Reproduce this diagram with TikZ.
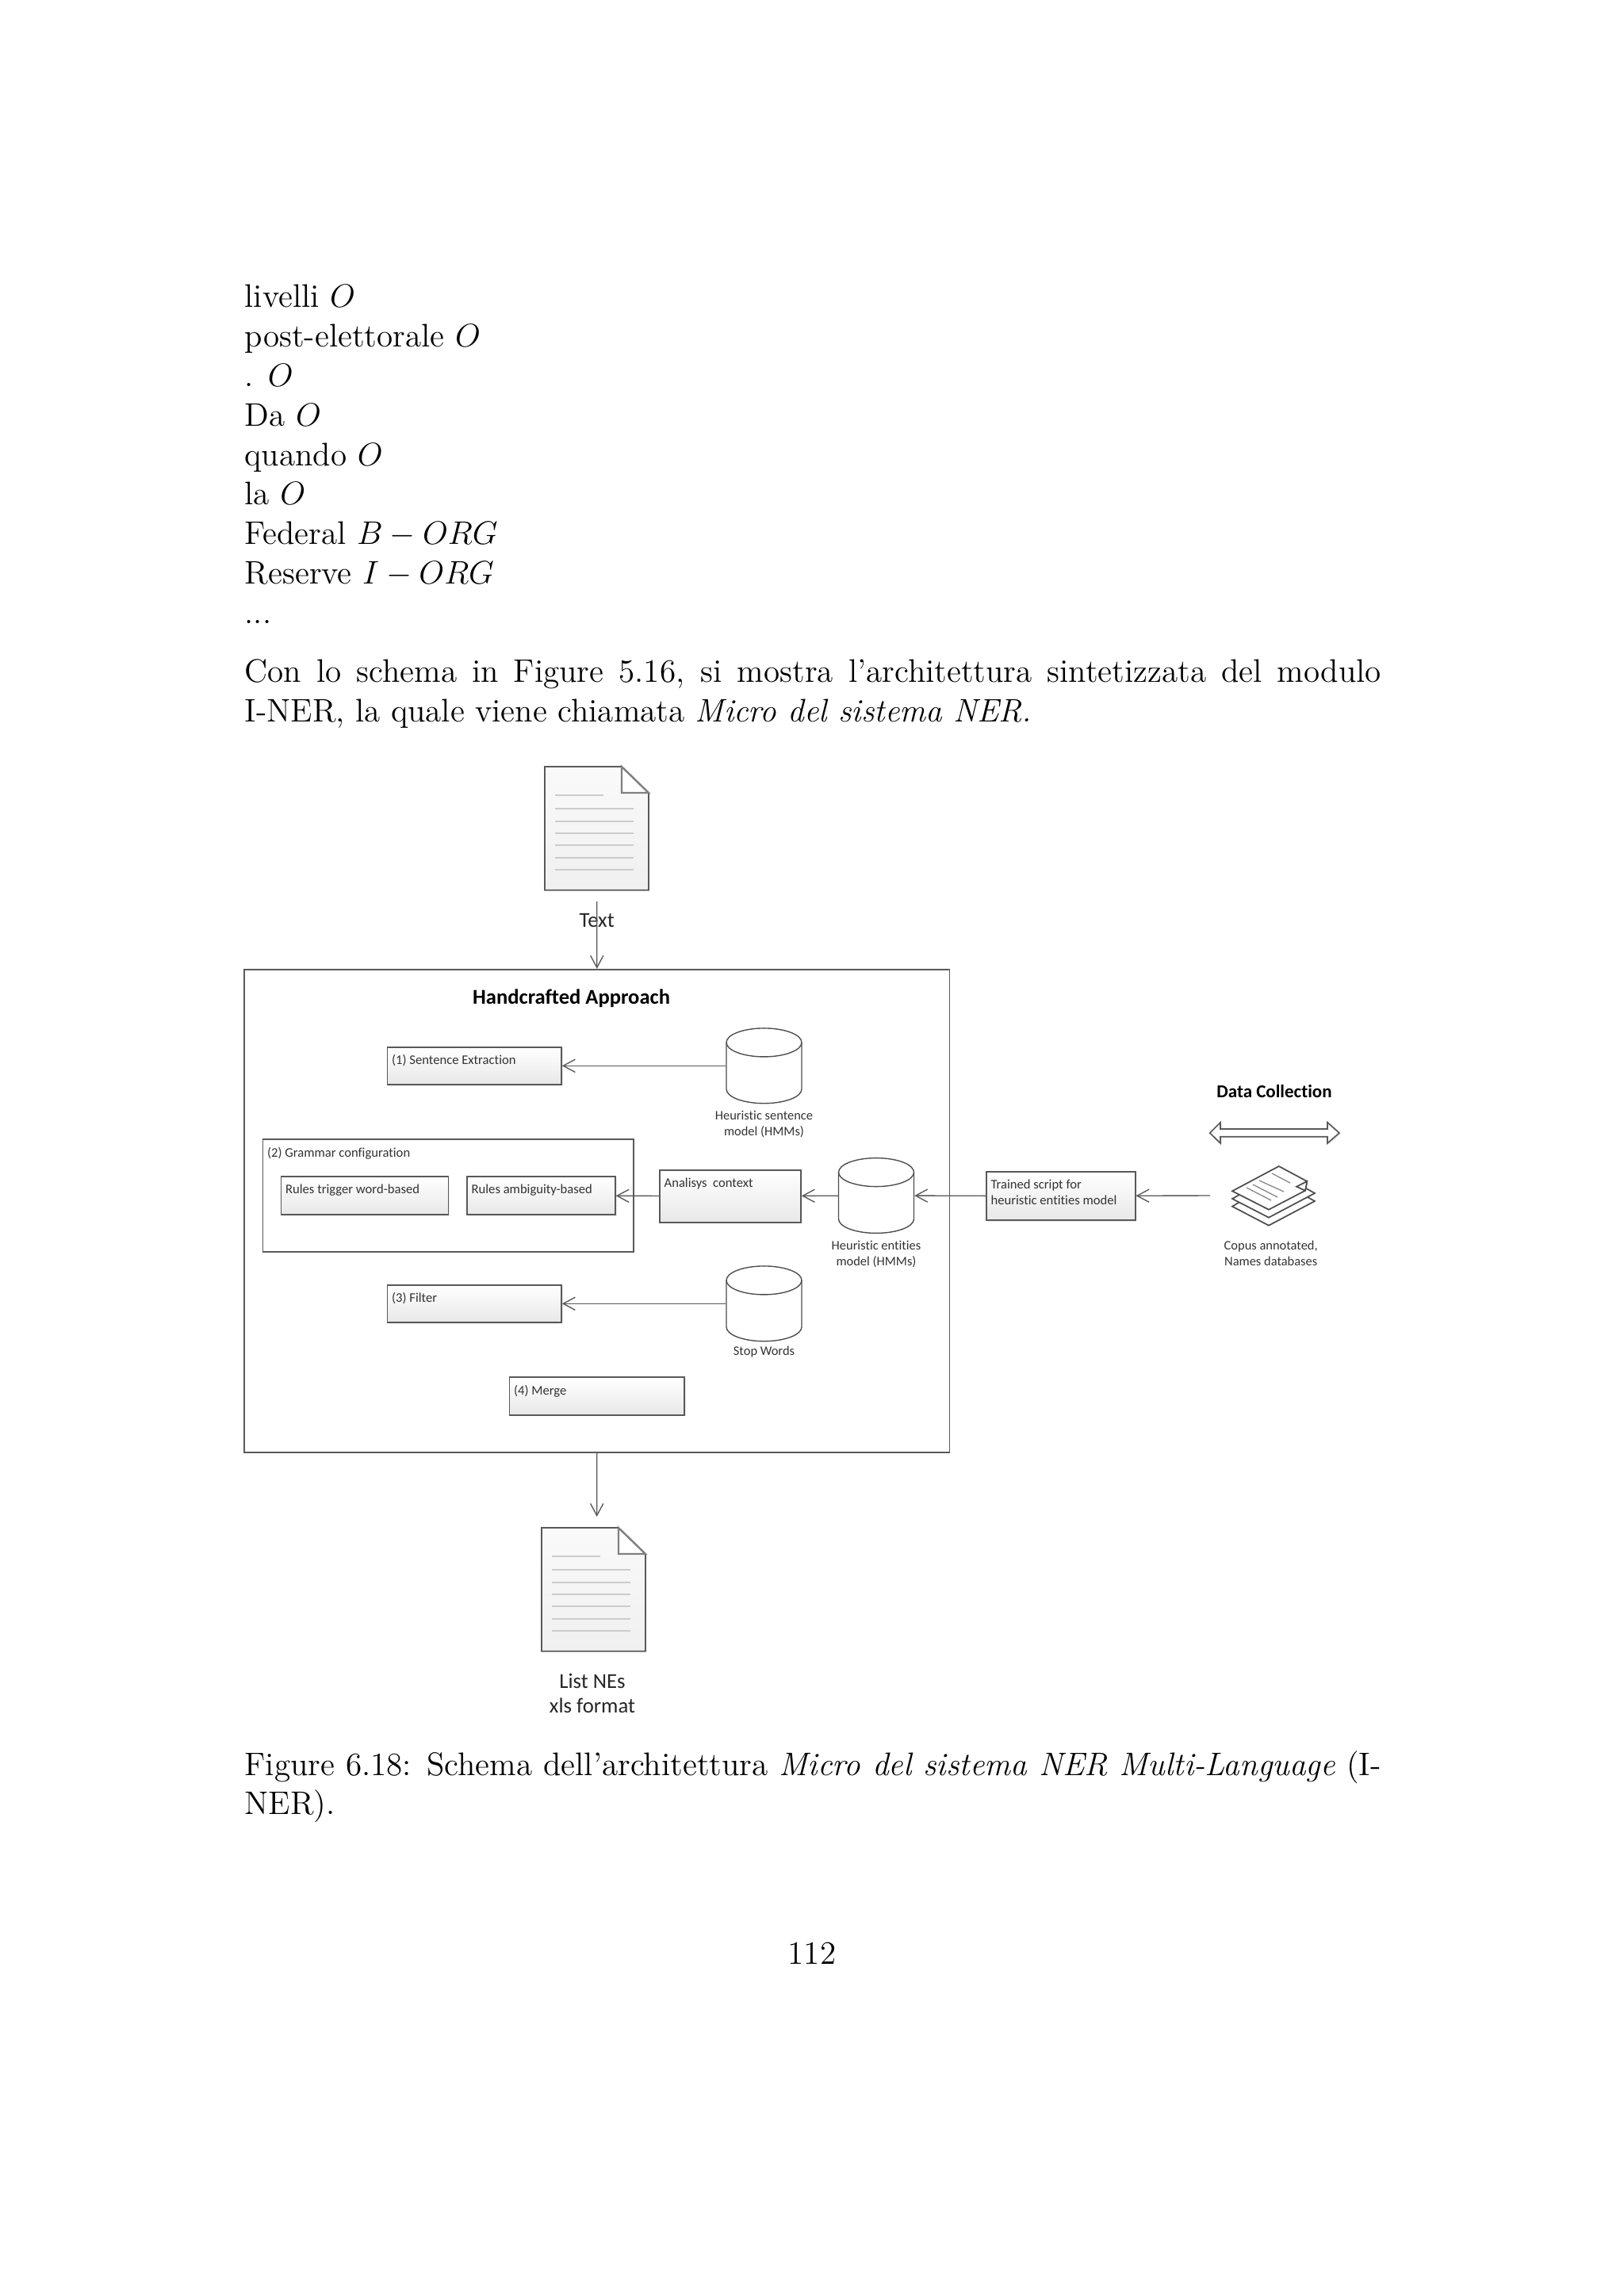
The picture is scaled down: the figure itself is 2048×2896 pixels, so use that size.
\documentclass[tikz,border=0pt]{standalone}
\usepackage{fontspec}
\newfontfamily\calibrifont[Ligatures=CommonOff]{Carlito}
\usepackage{tikz}
\usetikzlibrary{shapes,arrows.meta,positioning,shadows}

\def\pxu{0.29175pt}

\begin{document}
\begin{tikzpicture}[x=0.29175pt, y=-0.29175pt,
        bodytext/.style={anchor=base west, inner sep=0pt, font=\fontsize{12}{14.5}\selectfont},
        procbox/.style={rectangle, draw=black!65, line width=0.5pt, inner sep=0pt, top color=white, bottom color=black!9, drop shadow={opacity=0.15, shadow xshift=0.5pt, shadow yshift=-0.5pt}},
        plainbox/.style={rectangle, draw=black!65, line width=0.5pt, inner sep=0pt, fill=white},
        boxsize/.style 2 args={minimum width=#1*\pxu, minimum height=#2*\pxu},
        boxtext/.style={anchor=north west, inner xsep=1.7pt, inner ysep=3pt, align=left, text=black!80, font=\calibrifont\fontsize{4.85}{5.75}\selectfont},
        dbase/.style={rectangle, inner sep=0pt, minimum width=95*\pxu, minimum height=94.7*\pxu},
        caption/.style={align=center, inner sep=0pt, text=black!80, font=\calibrifont\fontsize{4.8}{5.75}\selectfont},
        bigcaption/.style={align=center, inner sep=0pt, text=black!85, font=\calibrifont\fontsize{7.8}{9.2}\selectfont},
        heading/.style={inner sep=0pt, text=black, font=\calibrifont\bfseries\fontsize{7.75}{9}\selectfont},
        arrow/.style={-{Straight Barb[length=4.4pt, width=4.7pt]}, draw=black!65, line width=0.4pt},
        dbshape/.pic={
            \draw[black!70, line width=0.4pt, fill=white] (-47.5,-29.4) -- (-47.5,29.4) arc (180:0:47.5 and 18) -- (47.5,-29.4);
            \draw[black!70, line width=0.4pt, fill=white] (0,-29.4) ellipse (47.5 and 18);
        },
        docpage/.pic={
            \draw[black!65, line width=0.5pt, top color=black!2, bottom color=black!6] (0,0) -- (97,0) -- (131,33) -- (131,155.7) -- (0,155.7) -- cycle;
            \draw[black!50, line width=0.7pt, fill=white] (97,0) -- (97,33) -- (131,33) -- cycle;
            \draw[black!20, line width=0.5pt] (13,36) -- (74,36);
            \foreach \ly in {53,69,84,99,115,130}
                \draw[black!20, line width=0.5pt] (13,\ly) -- (112,\ly);
        }]
        \useasboundingbox (0,0) rectangle (2048,2896);

        % Page text (top)
        \foreach \i/\txt in {0/{livelli $O$}, 1/{post-elettorale $O$}, 2/{. $O$}, 3/{Da $O$}, 4/{quando $O$}, 5/{la $O$}, 6/{Federal $B-ORG$}, 7/{Reserve $I-ORG$}, 8/{...}}
            \node[bodytext] (line\i) at (308,{387.8+49.8*\i}) {\txt};
        \node[bodytext] (introa) at (308,860.5) {\makebox[418.1pt][s]{Con lo schema in Figure 5.16, si mostra l'architettura sintetizzata del modulo}};
        \node[bodytext] (introb) at (308,910.3) {I-NER, la quale viene chiamata \emph{Micro del sistema NER.}};

        % Input document
        \pic at (687,967) {docpage};
        \node[bigcaption] (textlabel) at (752.7,1160.7) {Text};
        \coordinate (textin) at (752.7,1137);

        % Handcrafted approach (container)
        \node[plainbox, boxsize={889.6}{609}] (handcrafted) at (752.8,1527.2) {};
        \node[heading] (handtitle) at (720.6,1259) {Handcrafted Approach};

        % Steps
        \node[procbox, boxsize={219.5}{47.3}, label={[boxtext]north west:(1) Sentence Extraction}] (sentence) at (598.2,1344.3) {};
        \node[plainbox, boxsize={467.9}{141.7}, label={[boxtext]north west:(2) Grammar configuration}] (grammar) at (565.4,1507.9) {};
        \node[procbox, boxsize={211}{48}, label={[boxtext]north west:Rules trigger word-based}] (trigger) at (460,1508) {};
        \node[procbox, boxsize={186.8}{48}, label={[boxtext]north west:Rules ambiguity-based}] (ambiguity) at (682.4,1508) {};
        \node[procbox, boxsize={178}{66}, label={[boxtext]north west:Analisys\ \ context}] (context) at (921,1508.7) {};
        \node[procbox, boxsize={219.5}{47.3}, label={[boxtext]north west:(3) Filter}] (filter) at (598.2,1644.3) {};
        \node[procbox, boxsize={220.6}{47.7}, label={[boxtext]north west:(4) Merge}] (merge) at (752.7,1760.8) {};

        % Models
        \node[dbase] (sentmodel) at (963.5,1344.3) {};
        \pic at (sentmodel) {dbshape};
        \node[caption, below=2.5pt of sentmodel] (sentlabel) {Heuristic sentence\\model (HMMs)};
        \node[dbase] (entmodel) at (1105,1508) {};
        \pic at (entmodel) {dbshape};
        \node[caption, below=2.5pt of entmodel] (entlabel) {Heuristic entities\\model (HMMs)};
        \node[dbase] (stopmodel) at (963.5,1644.3) {};
        \pic at (stopmodel) {dbshape};
        \node[caption, below=1.4pt of stopmodel] (stoplabel) {Stop Words};

        % Data collection (right)
        \node[procbox, boxsize={187.7}{61}, label={[boxtext]north west:Trained script for\\heuristic entities model}] (trained) at (1337.8,1508.5) {};
        \node[heading, font=\calibrifont\bfseries\fontsize{6.7}{8}\selectfont] (datatitle) at (1607,1376.7) {Data Collection};
        \draw[black!65, line width=0.5pt, fill=white, drop shadow={opacity=0.15, shadow xshift=0.5pt, shadow yshift=-0.5pt}] (1525.7,1429) -- (1539,1415.7) -- (1539,1424) -- (1674,1424) -- (1674,1415.7) -- (1689,1429) -- (1674,1442) -- (1674,1433.7) -- (1539,1433.7) -- (1539,1442) -- cycle;
        \draw[black!70, line width=0.5pt, fill=white] (1554,1521.7) -- (1600,1545.7) -- (1658,1515) -- (1640,1505) -- (1570,1512) -- cycle;
        \draw[black!70, line width=0.5pt, fill=white] (1554,1512) -- (1600,1535.7) -- (1658,1505) -- (1640,1495) -- (1570,1503) -- cycle;
        \draw[black!70, line width=0.5pt, fill=white] (1554,1502.3) -- (1612.7,1471) -- (1648.3,1490) -- (1646,1501.7) -- (1600,1525.7) -- cycle;
        \draw[black!70, line width=0.5pt, fill=white] (1648.3,1490) -- (1635,1496.7) -- (1646,1501.7) -- cycle;
        \foreach \lx/\ly/\mx/\my in {1572/1498/1603/1514, 1580/1494/1611/1510, 1588/1489/1619/1503, 1604/1480/1627/1492}
            \draw[black!45, line width=0.4pt] (\lx,\ly) -- (\mx,\my);
        \node[caption] (corpuslabel) at (1602.7,1581) {Copus annotated,\\Names databases};
        \coordinate (corpusout) at (1526,1508);

        % Output document
        \coordinate (listin) at (752.7,1913);
        \pic at (683,1927) {docpage};
        \node[bigcaption] (listlabel) at (747,2136) {List NEs\\xls format};

        % Arrows
        \draw[arrow] (textin) -- (handcrafted.north);
        \draw[arrow] (handcrafted.south) -- (listin);
        \draw[arrow] (sentmodel) -- (sentence);
        \draw[arrow] (stopmodel) -- (filter);
        \draw[arrow] (context) -- (ambiguity);
        \draw[arrow] (entmodel) -- (context);
        \draw[arrow] (trained) -- (entmodel);
        \draw[arrow] (corpusout) -- (trained);

        % Caption and page number (bottom)
        \node[bodytext] (figcapa) at (308,2239.3) {\makebox[418.1pt][s]{Figure 6.18: Schema dell'architettura \emph{Micro del sistema NER Multi-Language} (I-}};
        \node[bodytext] (figcapb) at (308,2288.7) {NER).};
        \node[bodytext, anchor=base] (pagenum) at (1024,2477.3) {112};
    \end{tikzpicture}
\end{document}
